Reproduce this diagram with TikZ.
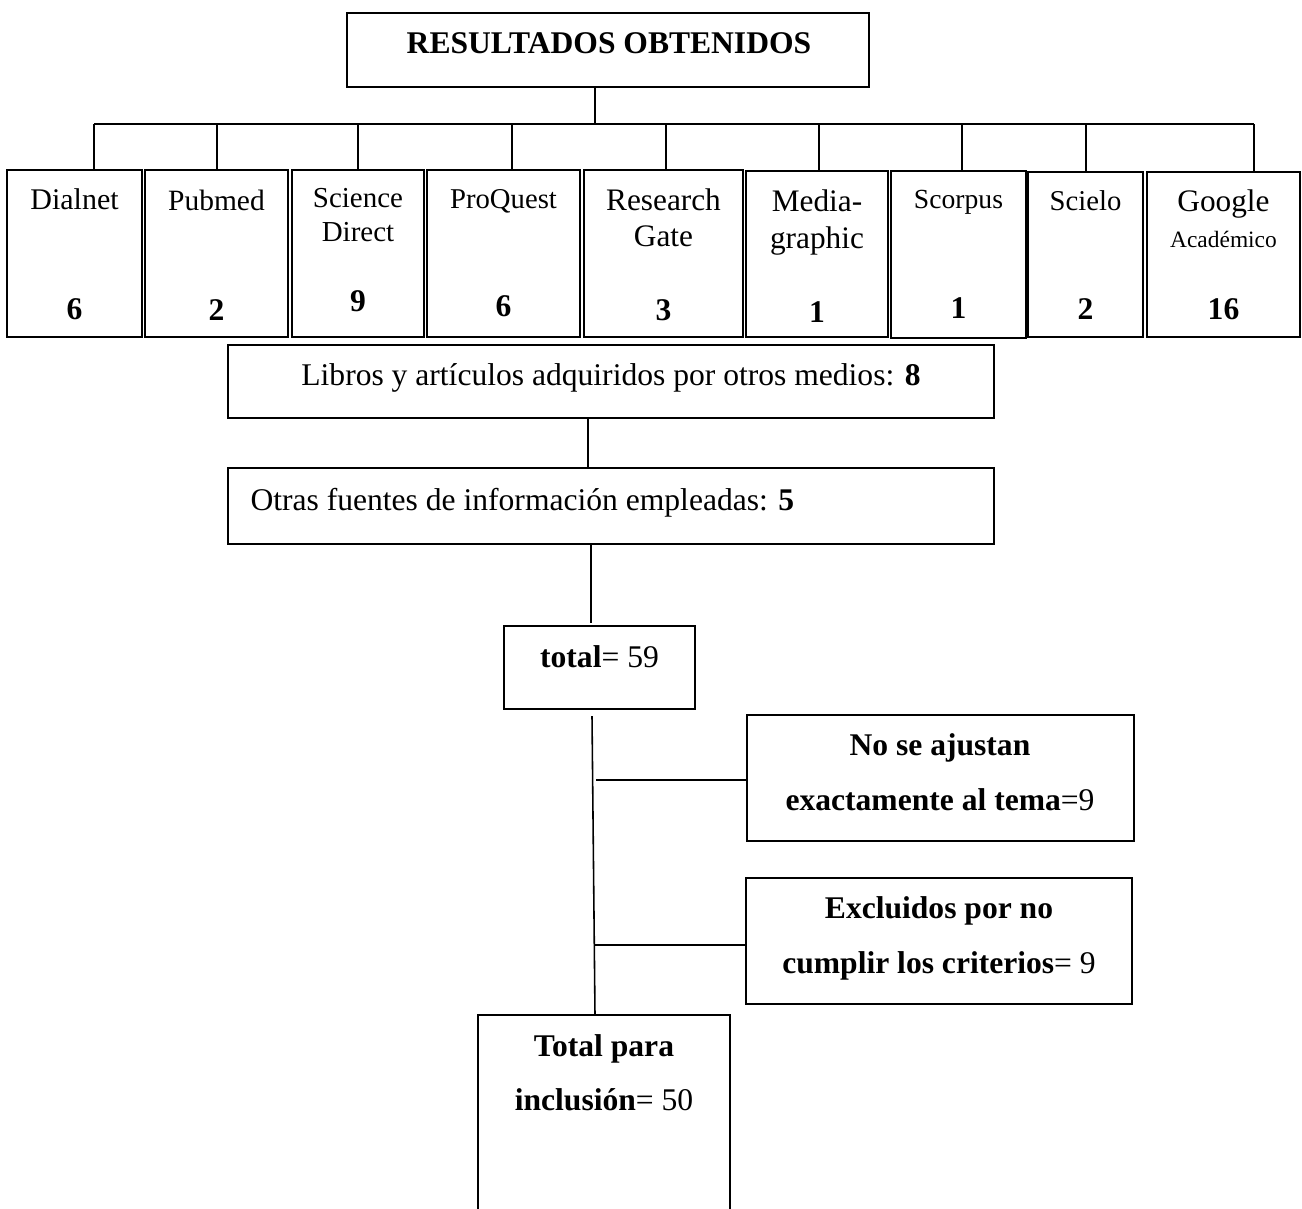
\documentclass[tikz,border=0pt]{standalone}
\usepackage{fontspec}
\setmainfont{Liberation Serif}
\usetikzlibrary{fit,calc}
\newcommand\myfs[1]{\fontsize{#1}{#1}\selectfont}
\tikzset{
  box/.style={draw, line width=0.75pt, inner sep=0pt},
  conn/.style={line width=0.6pt},
  txt/.style={inner sep=0pt, anchor=base},
  num/.style={inner sep=0pt, anchor=base, font=\myfs{12}\bfseries}
}
\begin{document}
\begin{tikzpicture}[x=0.38pt,y=-0.38pt]
\useasboundingbox (0,0) rectangle (1302,1209);
% title
\node[box, fit={(347,13) (869,87)}] (top) {};
\node[txt, font=\myfs{12}\bfseries] (ttop) at (609,53) {RESULTADOS OBTENIDOS};
% source boxes
\node[box, fit={(7,170) (142,337)}] (dial) {};
\node[box, fit={(145,170) (288,337)}] (pub) {};
\node[box, fit={(292,170) (424,337)}] (sd) {};
\node[box, fit={(427,170) (580,337)}] (pq) {};
\node[box, fit={(584,170) (743,337)}] (rg) {};
\node[box, fit={(746,171) (888,337)}] (mg) {};
\node[box, fit={(891,171) (1026,338)}] (sco) {};
\node[box, fit={(1028,172) (1143,337)}] (sci) {};
\node[box, fit={(1147,172) (1300,337)}] (goo) {};
% source texts
\node[txt, font=\myfs{11.4}] (t1) at (74.5,209) {Dialnet};
\node[num] (n1) at (74.5,319) {6};
\node[txt, font=\myfs{11.2}] (t2) at (216.5,210) {Pubmed};
\node[num] (n2) at (216.5,320.5) {2};
\node[txt, font=\myfs{11}] (t3a) at (358,207) {Science};
\node[txt, font=\myfs{11}] (t3b) at (358,241.5) {Direct};
\node[num] (n3) at (358,311.5) {9};
\node[txt, font=\myfs{10.9}] (t4) at (503.5,208) {ProQuest};
\node[num] (n4) at (503.5,316.5) {6};
\node[txt, font=\myfs{11.9}] (t5a) at (663.5,210) {Research};
\node[txt, font=\myfs{11.9}] (t5b) at (663.5,246.5) {Gate};
\node[num] (n5) at (663.5,320.5) {3};
\node[txt, font=\myfs{11.9}] (t6a) at (817,211.5) {Media-};
\node[txt, font=\myfs{11.9}] (t6b) at (817,248) {graphic};
\node[num] (n6) at (817,322) {1};
\node[txt, font=\myfs{10.5}] (t7) at (958.5,208) {Scorpus};
\node[num] (n7) at (958.5,318) {1};
\node[txt, font=\myfs{10.9}] (t8) at (1085.5,210.5) {Scielo};
\node[num] (n8) at (1085.5,319) {2};
\node[txt, font=\myfs{11.9}] (t9a) at (1223.5,211.5) {Google};
\node[txt, font=\myfs{8.9}] (t9b) at (1223.5,247.5) {Académico};
\node[num] (n9) at (1223.5,319) {16};
% bus
\coordinate (bus) at (595,124);
\coordinate (busL) at (94,124);
\coordinate (busR) at (1254,124);
\draw[conn] (top.south -| bus) -- (bus);
\draw[conn] (busL) -- (busR);
\foreach \xx/\nn in {94/dial,217/pub,358/sd,512/pq,666/rg,819/mg,962/sco,1086/sci,1254/goo}{
  \coordinate (j-\nn) at (\xx,124);
  \draw[conn] (j-\nn) -- (j-\nn |- \nn.north);
}
% other sources
\node[box, fit={(228,345) (994,418)}] (lib) {};
\node[txt, font=\myfs{12}] (tlib) at (611,385) {Libros y artículos adquiridos por otros medios: \textbf{8}};
\node[box, fit={(228,468) (994,544)}] (otr) {};
\node[txt, anchor=base west, font=\myfs{12}] (totr) at (250,510) {Otras fuentes de información empleadas: \textbf{5}};
\coordinate (c1) at (588,0);
\draw[conn] (lib.south -| c1) -- (otr.north -| c1);
% total
\node[box, fit={(504,626) (695,709)}] (tot) {};
\node[txt, font=\myfs{12}] (ttot) at (599.5,667) {\textbf{total}= 59};
\coordinate (c2) at (591,623);
\draw[conn] (otr.south -| c2) -- (c2);
% excluded boxes
\node[box, fit={(747,715) (1134,841)}] (nose) {};
\node[txt, font=\myfs{12}\bfseries] (tn1) at (940,755) {No se ajustan};
\node[txt, font=\myfs{12}] (tn2) at (940,810) {\textbf{exactamente al tema}=9};
\node[box, fit={(746,878) (1132,1004)}] (exc) {};
\node[txt, font=\myfs{12}\bfseries] (te1) at (939,918) {Excluidos por no};
\node[txt, font=\myfs{12}] (te2) at (939,973) {\textbf{cumplir los criterios}= 9};
% final
\begin{scope}
\clip (0,0) rectangle (1302,1209);
\node[box, fit={(478,1015) (730,1240)}] (fin) {};
\end{scope}
\node[txt, font=\myfs{12}\bfseries] (tf1) at (604,1056) {Total para};
\node[txt, font=\myfs{12}] (tf2) at (604,1110) {\textbf{inclusión}= 50};
\coordinate (v1) at (592,716);
\coordinate (v2) at (595,1015);
\draw[conn] (v1) -- (v2);
\coordinate (b1) at (596,780);
\coordinate (b2) at (594,945);
\draw[conn] (b1) -- (b1 -| nose.west);
\draw[conn] (b2) -- (b2 -| exc.west);
\end{tikzpicture}
\end{document}
